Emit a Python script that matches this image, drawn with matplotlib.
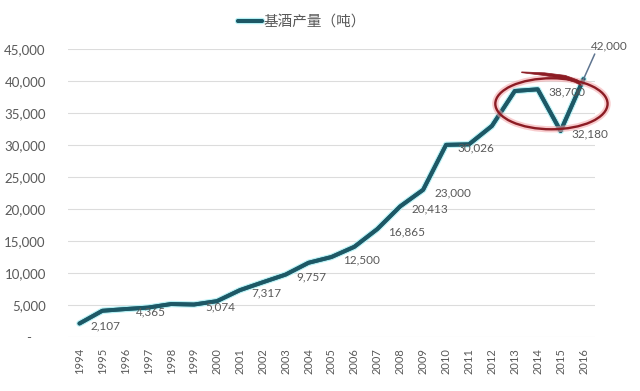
import matplotlib
matplotlib.use("Agg")
import matplotlib.pyplot as plt
import matplotlib.patheffects as pe
from matplotlib.patches import Ellipse, Polygon
from matplotlib.ticker import FuncFormatter

plt.rcParams['font.family'] = ['Lato', 'Noto Sans CJK SC', 'DejaVu Sans']

years = ['1994', '1995', '1996', '1997', '1998', '1999', '2000', '2001',
         '2002', '2003', '2004', '2005', '2006', '2007', '2008', '2009',
         '2010', '2011', '2012', '2013', '2014', '2015', '2016']
output = [2107, 4100, 4365, 4600, 5150, 5074, 5600, 7317,
          8550, 9757, 11600, 12500, 14100, 16865, 20413, 23000,
          30026, 30100, 32970, 38440, 38700, 32180, 40300]
# points that carry a data label
label_idx = [0, 2, 5, 7, 9, 11, 13, 14, 15, 16, 20, 21]
end_label = '42,000'
series_name = '基酒产量（吨）'

grey = '#595959'
teal = '#1d5866'

fig = plt.figure(figsize=(6.4, 3.91), dpi=100)
ax = fig.add_axes([0.10625, 0.1381, 0.8234, 0.7366])

x = list(range(len(years)))
ax.plot(x, output, color=teal, lw=2.8, solid_joinstyle='round',
        solid_capstyle='round', label=series_name,
        path_effects=[pe.withStroke(linewidth=4.6, foreground='#b5f0f4'), pe.Normal()],
        zorder=3)

for i in label_idx:
    ax.annotate('{:,}'.format(output[i]), (x[i], output[i]), xytext=(8, -2),
                textcoords='offset points', ha='left', va='center',
                fontsize=8.5, color=grey, zorder=4)

# last point: label pulled up with a leader line
ax.annotate(end_label, (x[-1], output[-1]), xytext=(5, 24),
            textcoords='offset points', ha='left', va='center',
            fontsize=8.5, color=grey, annotation_clip=False,
            arrowprops=dict(arrowstyle='-', color='#5f7590', lw=1.1,
                            shrinkA=0, shrinkB=0, relpos=(0.15, 0.0)))

# red highlight round 2013-2015
for lw, col, a in [(4.5, '#f3a3a6', 0.55), (1.7, '#8c1c24', 1.0)]:
    ax.add_patch(Ellipse((20.6, 36440), 4.9, 7970, fill=False, lw=lw,
                         edgecolor=col, alpha=a, clip_on=False, zorder=5))
swoosh = [(19.30, 41420), (20.30, 41280), (21.20, 40880), (21.75, 40150),
          (21.90, 39300), (21.62, 39800), (21.12, 40350), (20.30, 40850),
          (19.30, 41300)]
ax.add_patch(Polygon(swoosh, closed=True, color='#8c1c24', lw=0.5,
                     clip_on=False, zorder=5))

ax.set_xlim(-0.5, len(years) - 0.5)
ax.set_ylim(0, 45000)
ax.set_yticks(range(0, 45001, 5000))
ax.yaxis.set_major_formatter(FuncFormatter(
    lambda v, p: '-    ' if v == 0 else '{:,}'.format(int(v))))
ax.set_xticks(x)
ax.set_xticklabels(years, rotation=90, fontsize=8)
ax.tick_params(axis='y', labelsize=9.5, colors=grey, length=0, pad=16)
ax.tick_params(axis='x', colors=grey, length=0, pad=8)
ax.grid(axis='y', color='#dcdcdc', lw=0.8)
ax.set_axisbelow(True)
for s in ax.spines.values():
    s.set_visible(False)

fig.legend(loc='center', bbox_to_anchor=(0.472, 0.944), frameon=False,
           fontsize=10.5, handlelength=1.6, handletextpad=0.1,
           labelcolor=grey)

fig.savefig('out.png', dpi=100, facecolor='white')
